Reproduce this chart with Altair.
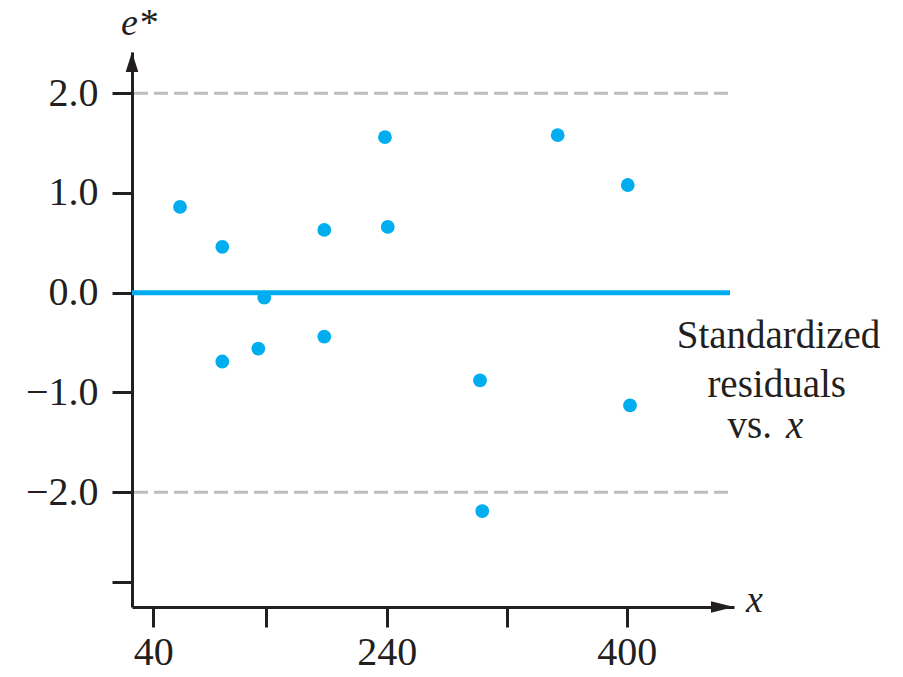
import altair as alt
import pandas as pd

# ---- data ----
x_vals = [62.9, 99.1, 99.1, 130.0, 135.1, 186.5, 186.5, 238.5, 240.7, 302.2, 303.7, 354.0, 400.7, 402.2]
e_vals = [0.86, 0.46, -0.69, -0.56, -0.05, 0.63, -0.44, 1.56, 0.66, -0.88, -2.19, 1.58, 1.08, -1.13]
x_ticks = [40, 137, 240, 320, 400]
x_tick_labels = ["40", "", "240", "", "400"]
y_ticks = [2.0, 1.0, 0.0, -1.0, -2.0, -2.9]
y_tick_labels = ["2.0", "1.0", "0.0", "\u22121.0", "\u22122.0", ""]
ref_levels = [-2.0, 2.0]
zero_level = [0.0]
annot_lines = ["Standardized", "residuals", "vs."]

FONT = "Liberation Serif"
INK = "#231f20"
BLUE = "#00aeef"
GRAY = "#bdbec0"
W, H = 602, 555


def label_expr(vals, labels):
    expr = "''"
    for v, l in zip(reversed(vals), reversed(labels)):
        expr = f"(abs(datum.value - ({v})) < 1e-6 ? '{l}' : {expr})"
    return expr


xscale = alt.Scale(domain=[21.7, 40, 240, 400, 471.5],
                   range=[0, 21.3, 254.7, 494.7, W], nice=False, zero=False)
yscale = alt.Scale(domain=[-3.152, 2.414], nice=False, zero=False)

xaxis = alt.Axis(values=x_ticks, labelExpr=label_expr(x_ticks, x_tick_labels),
                 title=None, grid=False, tickSize=20, tickWidth=3, tickColor=INK,
                 domainWidth=3, domainColor=INK, labelFont=FONT, labelFontSize=40,
                 labelColor=INK, labelPadding=5, labelFlush=False, labelOverlap=False)
yaxis = alt.Axis(values=y_ticks, labelExpr=label_expr(y_ticks, y_tick_labels),
                 title=None, grid=False, tickSize=20, tickWidth=3, tickColor=INK,
                 domainWidth=3, domainColor=INK, labelFont=FONT, labelFontSize=40,
                 labelColor=INK, labelPadding=14, labelFlush=False, labelOverlap=False)

pts_df = pd.DataFrame({"x": x_vals, "e": e_vals})

points = alt.Chart(pts_df).mark_circle(size=190, color=BLUE, opacity=1).encode(
    x=alt.X("x:Q", scale=xscale, axis=xaxis),
    y=alt.Y("e:Q", scale=yscale, axis=yaxis),
)

dashed = alt.Chart(pd.DataFrame({"lvl": ref_levels})).mark_rule(
    color=GRAY, strokeWidth=3, strokeDash=[14, 6]
).encode(y=alt.Y("lvl:Q", scale=yscale), x=alt.value(2), x2=alt.value(W - 5))

zero_line = alt.Chart(pd.DataFrame({"lvl": zero_level})).mark_rule(
    color=BLUE, strokeWidth=5
).encode(y=alt.Y("lvl:Q", scale=yscale), x=alt.value(0), x2=alt.value(W - 4))

one = pd.DataFrame({"k": [0]})
y_arrow = alt.Chart(one).mark_point(
    shape="M0,-1L0.63,1L-0.63,1Z", size=400, filled=True, color=INK, opacity=1, yOffset=10
).encode(x=alt.value(0), y=alt.value(0))
x_arrow = alt.Chart(one).mark_point(
    shape="M1,0L-1,-0.5L-1,0.5Z", size=529, filled=True, color=INK, opacity=1, xOffset=-11.5
).encode(x=alt.value(W), y=alt.value(H))

ann_df = pd.DataFrame({"t": annot_lines})
ann1 = alt.Chart(ann_df.iloc[[0]]).mark_text(
    font=FONT, fontSize=39, color=INK, align="center", baseline="alphabetic"
).encode(text="t:N", x=alt.value(646.5), y=alt.value(296.3))
ann2 = alt.Chart(ann_df.iloc[[1]]).mark_text(
    font=FONT, fontSize=39, color=INK, align="center", baseline="alphabetic"
).encode(text="t:N", x=alt.value(644.7), y=alt.value(344.7))
ann3 = alt.Chart(ann_df.iloc[[2]]).mark_text(
    font=FONT, fontSize=39, color=INK, align="right", baseline="alphabetic"
).encode(text="t:N", x=alt.value(640), y=alt.value(386.3))
ann4 = alt.Chart(pd.DataFrame({"t": ["x"]})).mark_text(
    font=FONT, fontSize=39, fontStyle="italic", color=INK, align="left", baseline="alphabetic"
).encode(text="t:N", x=alt.value(654), y=alt.value(386.3))

ytitle = alt.Chart(pd.DataFrame({"t": ["e*"]})).mark_text(
    font=FONT, fontSize=38, fontStyle="italic", color=INK, align="center", baseline="alphabetic"
).encode(text="t:N", x=alt.value(7), y=alt.value(-17))
xtitle = alt.Chart(pd.DataFrame({"t": ["x"]})).mark_text(
    font=FONT, fontSize=38, fontStyle="italic", color=INK, align="left", baseline="alphabetic"
).encode(text="t:N", x=alt.value(614), y=alt.value(560))

chart = alt.layer(
    dashed, zero_line, points, y_arrow, x_arrow, ann1, ann2, ann3, ann4, ytitle, xtitle
).properties(
    width=W, height=H,
    autosize=alt.AutoSizeParams(type="none"),
    padding={"left": 124, "top": 44, "right": 150, "bottom": 69},
    background="white",
).configure_view(stroke=None)

chart.save("out.html", embed_options={"renderer": "svg", "actions": False})
